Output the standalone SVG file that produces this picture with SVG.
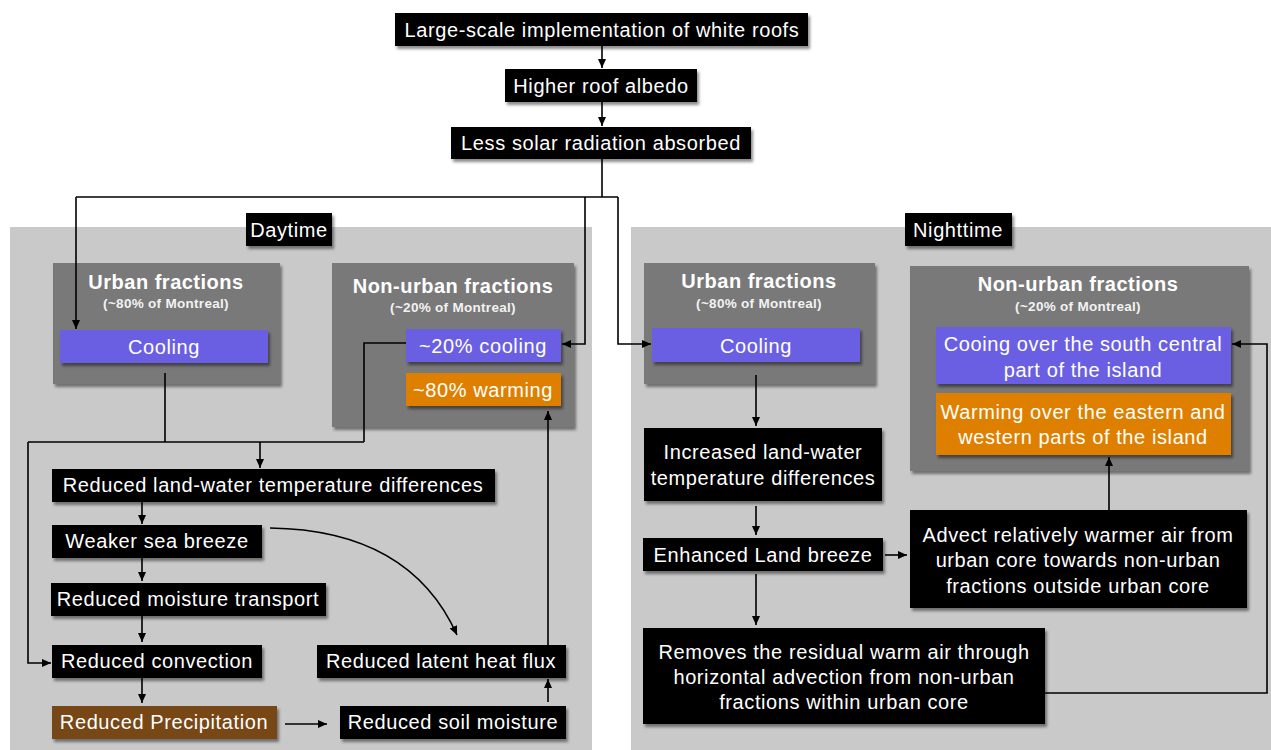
<svg xmlns="http://www.w3.org/2000/svg" width="1271" height="750" viewBox="0 0 1271 750">
<defs>
<filter id="sh" x="-10%" y="-20%" width="125%" height="150%">
<feDropShadow dx="2" dy="3" stdDeviation="1.6" flood-color="#000" flood-opacity="0.45"/>
</filter>
<marker id="ah" viewBox="0 0 9 8" refX="9" refY="4" markerWidth="9" markerHeight="8" orient="auto" markerUnits="userSpaceOnUse">
<path d="M0,0 L9,4 L0,8 z" fill="#000"/>
</marker>
<style>
.panel{fill:#c9c9c9}
.blk{fill:#000;filter:url(#sh)}
.grp{fill:#797979;filter:url(#sh)}
.blue{fill:#6a5fe2;filter:url(#sh)}
.org{fill:#df7f00;filter:url(#sh)}
.brn{fill:#774716;filter:url(#sh)}
.t{font-family:"Liberation Sans",Arial,Helvetica,sans-serif;font-size:20px;fill:#fff;text-anchor:middle;dominant-baseline:central;letter-spacing:0.6px}
.h{font-weight:bold;letter-spacing:0.5px}
.s{font-size:13.5px;font-weight:bold;letter-spacing:0.3px;fill:#f2f2f2}
.c{fill:none;stroke:#000;stroke-width:1.6}
.a{marker-end:url(#ah)}
</style>
</defs>
<rect x="0" y="0" width="1271" height="750" fill="#fff"/>
<g id="panels">
<rect class="panel" x="10" y="227" width="582" height="523"/>
<rect class="panel" x="631" y="227" width="640" height="523"/>
</g>
<g id="n-roofs"><rect class="blk" x="395" y="13" width="413" height="33"/><text class="t" x="602" y="30">Large-scale implementation of white roofs</text></g>
<g id="n-albedo"><rect class="blk" x="505" y="69" width="192" height="33"/><text class="t" x="601" y="86">Higher roof albedo</text></g>
<g id="n-solar"><rect class="blk" x="451" y="127" width="300" height="32"/><text class="t" x="601" y="143">Less solar radiation absorbed</text></g>
<g id="l-day"><rect class="blk" x="246" y="213" width="86" height="33"/><text class="t" x="289" y="230">Daytime</text></g>
<g id="l-night"><rect class="blk" x="905" y="213" width="107" height="33"/><text class="t" x="958" y="230">Nighttime</text></g>
<g id="d-urban">
<rect class="grp" x="53" y="263" width="227" height="121"/>
<text class="t h" x="166" y="282">Urban fractions</text>
<text class="t s" x="166" y="303">(~80% of Montreal)</text>
<rect class="blue" x="60" y="330" width="208" height="33"/>
<text class="t" x="164" y="347">Cooling</text>
</g>
<g id="d-nonurban">
<rect class="grp" x="332" y="263" width="242" height="164"/>
<text class="t h" x="453" y="286">Non-urban fractions</text>
<text class="t s" x="453" y="307">(~20% of Montreal)</text>
<rect class="blue" x="406" y="329" width="155" height="33"/>
<text class="t" x="483" y="346">~20% cooling</text>
<rect class="org" x="406" y="373" width="155" height="33"/>
<text class="t" x="483" y="390">~80% warming</text>
</g>
<g id="d-landwater"><rect class="blk" x="52" y="469" width="443" height="33"/><text class="t" x="273" y="485">Reduced land-water temperature differences</text></g>
<g id="d-seabreeze"><rect class="blk" x="52" y="525" width="210" height="33"/><text class="t" x="157" y="541">Weaker sea breeze</text></g>
<g id="d-moisture"><rect class="blk" x="51" y="583" width="275" height="33"/><text class="t" x="188" y="599">Reduced moisture transport</text></g>
<g id="d-convection"><rect class="blk" x="52" y="645" width="210" height="33"/><text class="t" x="157" y="661">Reduced convection</text></g>
<g id="d-precip"><rect class="brn" x="52" y="706" width="225" height="33"/><text class="t" x="164" y="722">Reduced Precipitation</text></g>
<g id="d-soil"><rect class="blk" x="340" y="706" width="226" height="33"/><text class="t" x="453" y="722">Reduced soil moisture</text></g>
<g id="d-latent"><rect class="blk" x="317" y="645" width="249" height="33"/><text class="t" x="441" y="661">Reduced latent heat flux</text></g>
<g id="n-urban">
<rect class="grp" x="644" y="263" width="231" height="121"/>
<text class="t h" x="759" y="281">Urban fractions</text>
<text class="t s" x="759" y="303">(~80% of Montreal)</text>
<rect class="blue" x="652" y="328" width="208" height="34"/>
<text class="t" x="756" y="346">Cooling</text>
</g>
<g id="n-nonurban">
<rect class="grp" x="910" y="266" width="339" height="205"/>
<text class="t h" x="1078" y="284">Non-urban fractions</text>
<text class="t s" x="1078" y="306">(~20% of Montreal)</text>
<rect class="blue" x="936" y="327" width="295" height="57"/>
<text class="t" x="1083" y="344">Cooing over the south central</text>
<text class="t" x="1083" y="370">part of the island</text>
<rect class="org" x="936" y="393" width="295" height="62"/>
<text class="t" x="1083" y="412">Warming over the eastern and</text>
<text class="t" x="1083" y="437">western parts of the island</text>
</g>
<g id="n-landwater"><rect class="blk" x="644" y="428" width="238" height="73"/><text class="t" x="763" y="452">Increased land-water</text><text class="t" x="763" y="478">temperature differences</text></g>
<g id="n-landbreeze"><rect class="blk" x="643" y="538" width="240" height="33"/><text class="t" x="763" y="555">Enhanced Land breeze</text></g>
<g id="n-advect"><rect class="blk" x="910" y="510" width="337" height="98"/><text class="t" x="1078" y="535">Advect relatively warmer air from</text><text class="t" x="1078" y="560">urban core towards non-urban</text><text class="t" x="1078" y="586">fractions outside urban core</text></g>
<g id="n-removes"><rect class="blk" x="643" y="628" width="402" height="96"/><text class="t" x="844" y="652">Removes the residual warm air through</text><text class="t" x="844" y="677">horizontal advection from non-urban</text><text class="t" x="844" y="702">fractions within urban core</text></g>
<g id="connectors">
<path class="c a" d="M602,46 V68"/>
<path class="c a" d="M602,102 V126"/>
<path class="c" d="M602,159 V197 M76,197 H618"/>
<path class="c a" d="M76,197 V329"/>
<path class="c a" d="M585,197 V344 H562"/>
<path class="c a" d="M618,197 V344 H651"/>
<path class="c" d="M165,373 V442 M406,343 H364 V442 M28,442 H364"/>
<path class="c a" d="M260,442 V468"/>
<path class="c a" d="M28,442 V663 H51"/>
<path class="c a" d="M142,502 V524"/>
<path class="c a" d="M142,558 V581"/>
<path class="c a" d="M142,616 V642"/>
<path class="c a" d="M142,678 V703"/>
<path class="c a" d="M285,724 H327"/>
<path class="c a" d="M548,702 V679"/>
<path class="c a" d="M548,645 V411"/>
<path class="c a" d="M270,528 Q410,530 457,635"/>
<path class="c a" d="M756,375 V426"/>
<path class="c a" d="M756,506 V535"/>
<path class="c a" d="M885,555 H907"/>
<path class="c a" d="M756,574 V625"/>
<path class="c a" d="M1109,510 V457"/>
<path class="c a" d="M1045,693 H1267 V344 H1232"/>
</g>
</svg>
